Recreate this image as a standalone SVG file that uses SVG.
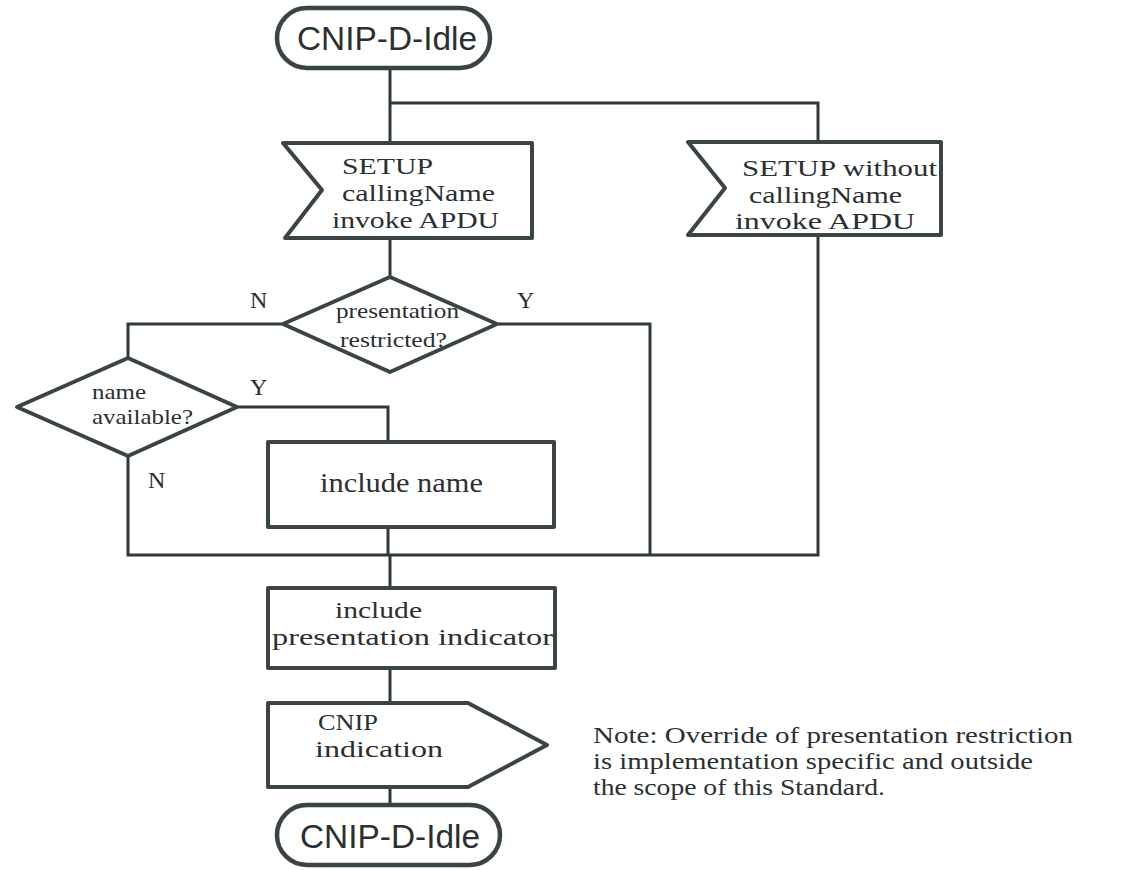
<svg xmlns="http://www.w3.org/2000/svg" width="1132" height="870" viewBox="0 0 1132 870">
<style>
.shape{fill:#fff;stroke:#3a4445;stroke-width:4;stroke-linejoin:round}
.term{fill:#fff;stroke:#3a4445;stroke-width:4.5}
.conn{fill:none;stroke:#2f3838;stroke-width:3;stroke-linejoin:miter}
.serif{font-family:"Liberation Serif","Times New Roman",serif;fill:#2a3031}
.sans{font-family:"Liberation Sans",Arial,sans-serif;fill:#2a3031}
.big{font-size:24px}
.small{font-size:22px}
.lbl{font-size:24px}
</style>
<rect width="1132" height="870" fill="#fff"/>
<g id="connectors">
<path class="conn" d="M390 68 V143"/>
<path class="conn" d="M390 103 H818 V142"/>
<path class="conn" d="M390 238 V277"/>
<path class="conn" d="M283 324 H128 V358"/>
<path class="conn" d="M497 324 H650 V555"/>
<path class="conn" d="M237 407 H388 V442"/>
<path class="conn" d="M128 456 V555 H818 V235"/>
<path class="conn" d="M388 527 V555"/>
<path class="conn" d="M390 555 V588"/>
<path class="conn" d="M390 668 V703"/>
<path class="conn" d="M390 787 V805"/>
</g>
<g id="start">
<rect class="term" x="277" y="8" width="213" height="60" rx="30"/>
<text class="sans" x="297" y="50" font-size="33" textLength="180" lengthAdjust="spacingAndGlyphs">CNIP-D-Idle</text>
</g>
<g id="setup-calling">
<path class="shape" d="M283 143 H532 V238 H285 L322 190 Z"/>
<text class="serif big" x="342" y="174" textLength="91" lengthAdjust="spacingAndGlyphs">SETUP</text>
<text class="serif big" x="342" y="201" textLength="153" lengthAdjust="spacingAndGlyphs">callingName</text>
<text class="serif big" x="332" y="228" textLength="167" lengthAdjust="spacingAndGlyphs">invoke APDU</text>
</g>
<g id="setup-without">
<path class="shape" d="M688 142 H941 V235 H688 L725 188 Z"/>
<text class="serif big" x="742" y="176" textLength="195" lengthAdjust="spacingAndGlyphs">SETUP without</text>
<text class="serif big" x="749" y="203" textLength="153" lengthAdjust="spacingAndGlyphs">callingName</text>
<text class="serif big" x="735" y="229" textLength="180" lengthAdjust="spacingAndGlyphs">invoke APDU</text>
</g>
<g id="presentation-restricted">
<path class="shape" d="M390 277 L497 324 L390 372 L283 324 Z"/>
<text class="serif small" x="336" y="318" textLength="123" lengthAdjust="spacingAndGlyphs">presentation</text>
<text class="serif small" x="340" y="347" textLength="107" lengthAdjust="spacingAndGlyphs">restricted?</text>
<text class="serif lbl" x="250" y="308">N</text>
<text class="serif lbl" x="517" y="308">Y</text>
</g>
<g id="name-available">
<path class="shape" d="M128 358 L237 407 L128 456 L17 407 Z"/>
<text class="serif small" x="92" y="399" textLength="54" lengthAdjust="spacingAndGlyphs">name</text>
<text class="serif small" x="92" y="424" textLength="101" lengthAdjust="spacingAndGlyphs">available?</text>
<text class="serif lbl" x="250" y="395">Y</text>
<text class="serif lbl" x="148" y="488">N</text>
</g>
<g id="include-name">
<rect class="shape" x="268" y="442" width="286" height="85"/>
<text class="serif" x="320" y="492" font-size="28" textLength="163" lengthAdjust="spacingAndGlyphs">include name</text>
</g>
<g id="include-indicator">
<rect class="shape" x="268" y="588" width="287" height="80"/>
<text class="serif big" x="335" y="618" textLength="87" lengthAdjust="spacingAndGlyphs">include</text>
<text class="serif big" x="272" y="645" textLength="281" lengthAdjust="spacingAndGlyphs">presentation indicator</text>
</g>
<g id="cnip-indication">
<path class="shape" d="M268 703 H468 L547 745 L468 787 H268 Z"/>
<text class="serif big" x="318" y="730" textLength="60" lengthAdjust="spacingAndGlyphs">CNIP</text>
<text class="serif big" x="315" y="757" textLength="128" lengthAdjust="spacingAndGlyphs">indication</text>
</g>
<g id="end">
<rect class="term" x="277" y="805" width="223" height="60" rx="30"/>
<text class="sans" x="300" y="848" font-size="33" textLength="180" lengthAdjust="spacingAndGlyphs">CNIP-D-Idle</text>
</g>
<g id="note">
<text class="serif" font-size="23" x="593" y="743" textLength="480" lengthAdjust="spacingAndGlyphs">Note: Override of presentation restriction</text>
<text class="serif" font-size="23" x="593" y="769" textLength="440" lengthAdjust="spacingAndGlyphs">is implementation specific and outside</text>
<text class="serif" font-size="23" x="593" y="795" textLength="292" lengthAdjust="spacingAndGlyphs">the scope of this Standard.</text>
</g>
</svg>
